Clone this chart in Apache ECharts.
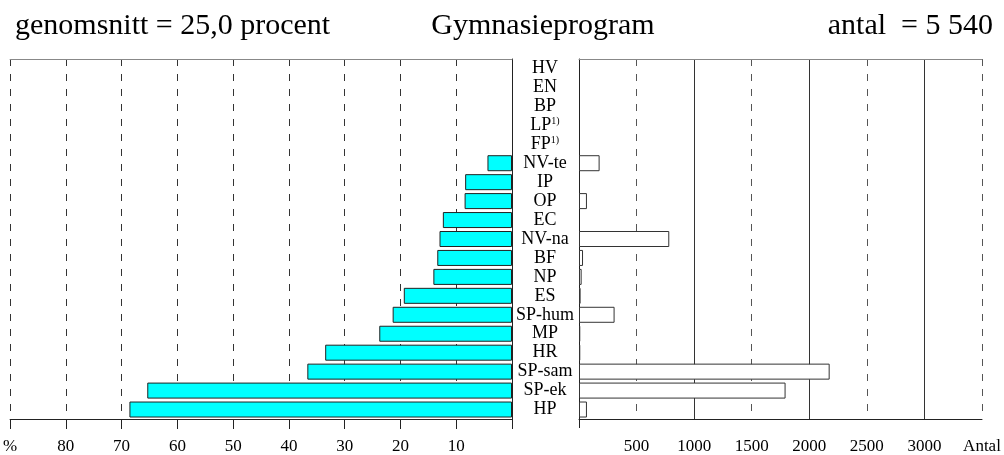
<!DOCTYPE html>
<html><head><meta charset="utf-8">
<script src="https://cdn.jsdelivr.net/npm/echarts@6/dist/echarts.min.js"></script>
<style>html,body{margin:0;padding:0;background:#fff}#c{width:1004px;height:455px}</style>
</head><body><div id="c"></div>
<script>
const categories = ['HV','EN','BP','LP','FP','NV-te','IP','OP','EC','NV-na','BF','NP','ES','SP-hum','MP','HR','SP-sam','SP-ek','HP'];
const footnoted = ['LP','FP'];
const percentValues = [null,null,null,null,null,4.4,8.4,8.5,12.4,13.0,13.4,14.1,19.4,21.4,23.8,33.5,36.7,65.4,68.6];
const countValues = [null,null,null,null,null,179,null,69,null,784,35,23,14,309,11,11,2177,1794,69];
const percentTickLabels = {90:'%',80:'80',70:'70',60:'60',50:'50',40:'40',30:'30',20:'20',10:'10'};
const countTickLabels = {500:'500',1000:'1000',1500:'1500',2000:'2000',2500:'2500',3000:'3000',3500:'Antal'};
const titleLeft = 'genomsnitt = 25,0 procent';
const titleMid = 'Gymnasieprogram';
const titleRight = 'antal  = 5 540';

const serif = 'Liberation Serif';
const chart = echarts.init(document.getElementById('c'), null, {renderer:'canvas'});
const option = {
  animation: false,
  backgroundColor: '#fff',
  graphic: [
    {type:'text', x:15, y:11, style:{text:titleLeft, font:'30px "Liberation Serif"', fill:'#000'}},
    {type:'text', x:543, y:11, style:{text:titleMid, font:'30px "Liberation Serif"', fill:'#000', textAlign:'center'}},
    {type:'text', x:993, y:11, style:{text:titleRight, font:'30px "Liberation Serif"', fill:'#000', textAlign:'right'}}
  ],
  grid: [
    {left:10, top:59, width:502, height:360},
    {left:579, top:59, width:403, height:360}
  ],
  xAxis: [
    {gridIndex:0, type:'value', min:0, max:90, interval:10, inverse:true, position:'bottom',
      axisLine:{show:true, lineStyle:{color:'#222', width:1}},
      axisTick:{show:true, length:10, lineStyle:{color:'#222'}},
      axisLabel:{fontFamily:serif, fontSize:17, color:'#000', margin:19,
        formatter: v => percentTickLabels[v] || ''},
      splitLine:{show:true, lineStyle:{type:[7,8], color:'#333', width:1}}},
    {gridIndex:0, type:'value', min:0, max:90, inverse:true, position:'top',
      axisLine:{show:true, lineStyle:{color:'#888'}}, axisTick:{show:false}, axisLabel:{show:false}, splitLine:{show:false}},
    {gridIndex:1, type:'value', min:0, max:3500, interval:500, position:'bottom',
      axisLine:{show:true, lineStyle:{color:'#222'}}, axisTick:{show:false},
      axisLabel:{fontFamily:serif, fontSize:17, color:'#000', margin:19,
        formatter: v => countTickLabels[v] || ''},
      splitLine:{show:true, lineStyle:{type:[7,8], color:'#555', width:1}}},
    {gridIndex:1, type:'value', min:0, max:3500, interval:1000, position:'top',
      axisLine:{show:true, lineStyle:{color:'#888'}}, axisTick:{show:false}, axisLabel:{show:false},
      splitLine:{show:true, showMinLine:false, showMaxLine:false, lineStyle:{type:'solid', color:'#333', width:1}}}
  ],
  yAxis: [
    {gridIndex:0, type:'category', data:categories, inverse:true, position:'right',
      axisLine:{show:true, lineStyle:{color:'#222'}}, axisTick:{show:false}, axisLabel:{show:false}, splitLine:{show:false}},
    {gridIndex:1, type:'category', data:categories, inverse:true, position:'left',
      axisLine:{show:true, lineStyle:{color:'#222'}}, axisTick:{show:false}, splitLine:{show:false},
      axisLabel:{align:'center', margin:34, fontFamily:serif, fontSize:18, color:'#000', interval:0,
        formatter: v => footnoted.includes(v) ? v + '{sup|1)}' : v,
        rich:{sup:{fontSize:10, fontFamily:serif, color:'#000', verticalAlign:'top'}}}}
  ],
  series: [
    {type:'bar', xAxisIndex:0, yAxisIndex:0, data:percentValues, barWidth:16,
      itemStyle:{color:'#00FFFF', borderColor:'#222', borderWidth:1}},
    {type:'bar', xAxisIndex:2, yAxisIndex:1, data:countValues, barWidth:16,
      itemStyle:{color:'#fff', borderColor:'#333', borderWidth:1}}
  ]
};
chart.setOption(option);
// extend the right chart's left axis line below the frame (like the reference)
const p0 = chart.convertToPixel({xAxisIndex:2}, 0);
const gridBottom = 59 + 360;
chart.setOption({graphic: option.graphic.concat([
  {type:'line', shape:{x1:Math.round(p0)+0.5, y1:gridBottom, x2:Math.round(p0)+0.5, y2:gridBottom+9}, style:{stroke:'#222', lineWidth:1}}
])});
</script></body></html>
